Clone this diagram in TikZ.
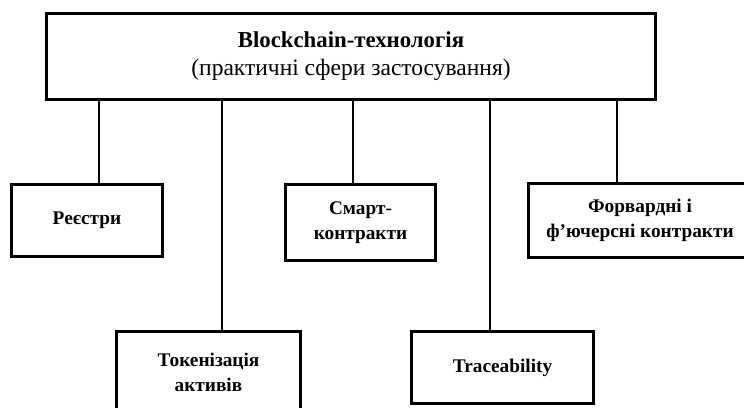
\documentclass[tikz,border=0pt]{standalone}
\usepackage{fontspec}
\setmainfont{Liberation Serif}
\usepackage{tikz}

\begin{document}
\begin{tikzpicture}[x=1pt,y=-1pt,
		blk/.style={draw,line width=3pt,inner sep=0pt,align=center,
			font=\fontsize{19.3}{25}\selectfont\bfseries},
		link/.style={line width=2pt}]
		\useasboundingbox (0,0) rectangle (744,407);
		\clip (0,0) rectangle (744,407);
		\node[blk,minimum width=609pt,minimum height=86pt,font=\fontsize{23.5}{27.5}\selectfont] (tech) at (351,56)
			{{\fontsize{22.8}{27.5}\selectfont\bfseries Blockchain-технологія}\\(практичні сфери застосування)};
		\node[blk,minimum width=151pt,minimum height=72pt] (reg) at (87,220.5) {Реєстри};
		\node[blk,minimum width=150pt,minimum height=76pt] (smart) at (360.5,222.5) {Смарт-\\контракти};
		\node[blk,minimum width=223pt,minimum height=74pt] (fwd) at (640,220.5) {Форвардні і\\ф’ючерсні контракти};
		\node[blk,minimum width=184pt,minimum height=82pt] (token) at (208.5,372.5) {Токенізація\\активів};
		\node[blk,minimum width=182pt,minimum height=72pt] (trace) at (502.5,367.5) {Traceability};
		\draw[link] ([xshift=12pt]reg.north) -- ([xshift=12pt]reg.north |- tech.south);
		\draw[link] ([xshift=13.5pt]token.north) -- ([xshift=13.5pt]token.north |- tech.south);
		\draw[link] ([xshift=-7.5pt]smart.north) -- ([xshift=-7.5pt]smart.north |- tech.south);
		\draw[link] ([xshift=-12.5pt]trace.north) -- ([xshift=-12.5pt]trace.north |- tech.south);
		\draw[link] ([xshift=-23pt]fwd.north) -- ([xshift=-23pt]fwd.north |- tech.south);
	\end{tikzpicture}
\end{document}
